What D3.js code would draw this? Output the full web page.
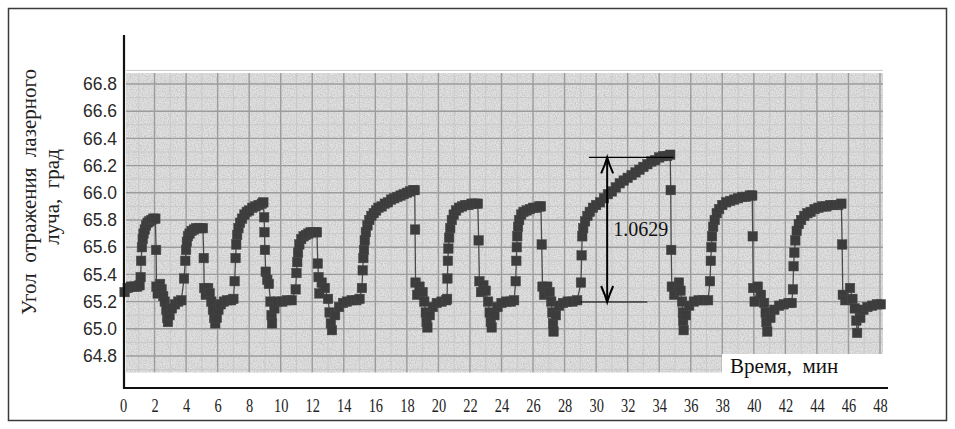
<!DOCTYPE html>
<html>
<head>
<meta charset="utf-8">
<script src="https://cdn.jsdelivr.net/npm/d3@7/dist/d3.min.js"></script>
<style>
  html, body { margin: 0; padding: 0; background: #fff; }
  svg { display: block; }
</style>
</head>
<body>
<div id="chart"></div>
<script>
// angle of the reflected laser beam vs time
const xTicks = d3.range(0, 49, 2);
const yTicks = [64.8, 65.0, 65.2, 65.4, 65.6, 65.8, 66.0, 66.2, 66.4, 66.6, 66.8];

const cycle1 = [[0.1,65.27],[0.3,65.30],[0.5,65.31],[0.7,65.31],[0.9,65.31],[1.05,65.32],
  [1.12,65.38],[1.15,65.50],[1.2,65.60],[1.25,65.66],[1.3,65.70],[1.38,65.73],[1.46,65.76],[1.56,65.78],
  [1.68,65.79],[1.8,65.80],[1.92,65.81],[2.05,65.81],
  [2.1,65.58],[2.12,65.31],[2.2,65.26],[2.35,65.33],[2.45,65.29],[2.55,65.24],[2.65,65.2],[2.75,65.14],
  [2.8,65.08],[2.85,65.05],[2.95,65.1],[3.1,65.15],[3.3,65.18],[3.5,65.2],[3.7,65.21]];
const cycle2 = [[3.87,65.37],[3.95,65.5],[4.0,65.58],[4.05,65.64],[4.12,65.68],[4.22,65.7],[4.35,65.72],
  [4.5,65.73],[4.65,65.74],[4.8,65.74],[4.95,65.74],[5.07,65.74],
  [5.12,65.52],[5.15,65.3],[5.25,65.25],[5.4,65.3],[5.5,65.26],[5.6,65.2],[5.7,65.14],[5.78,65.08],
  [5.85,65.04],[5.95,65.08],[6.05,65.14],[6.2,65.18],[6.4,65.2],[6.6,65.21],[6.85,65.21],[7.0,65.22]];
const cycle3 = [[7.08,65.35],[7.14,65.52],[7.18,65.62],[7.24,65.69],[7.32,65.74],[7.42,65.78],[7.55,65.81],
  [7.7,65.84],[7.85,65.86],[8.0,65.87],[8.2,65.89],[8.4,65.9],[8.6,65.91],[8.8,65.92],[8.9,65.93],
  [8.95,65.82],[8.97,65.71],[9.0,65.58],[9.05,65.42],[9.15,65.36],[9.25,65.33],[9.35,65.2],[9.42,65.1],
  [9.45,65.04],[9.6,65.15],[9.8,65.2],[10.1,65.2],[10.4,65.21],[10.7,65.21]];
const cycle4 = [[10.95,65.29],[11.0,65.41],[11.05,65.49],[11.1,65.56],[11.18,65.62],[11.3,65.66],[11.45,65.68],
  [11.6,65.69],[11.75,65.7],[11.9,65.71],[12.05,65.71],[12.2,65.71],[12.3,65.71],
  [12.35,65.48],[12.4,65.38],[12.45,65.26],[12.6,65.34],[12.8,65.3],[13.0,65.22],[13.1,65.12],[13.18,65.04],
  [13.25,64.99],[13.45,65.1],[13.7,65.16],[13.95,65.19],[14.2,65.2],[14.5,65.21],[14.8,65.21],[15.0,65.22]];
const cycle5 = [[15.15,65.30],[15.2,65.43],[15.24,65.52],[15.28,65.58],[15.33,65.65],[15.4,65.71],[15.5,65.76],
  [15.62,65.8],[15.75,65.83],[15.9,65.85],[16.05,65.87],[16.2,65.89],[16.4,65.9],[16.6,65.92],[16.8,65.93],
  [17.0,65.95],[17.2,65.96],[17.4,65.97],[17.6,65.98],[17.8,65.99],[18.0,66.0],[18.2,66.01],[18.4,66.02],[18.5,66.02],
  [18.52,65.73],[18.55,65.34],[18.65,65.25],[18.8,65.31],[19.0,65.27],[19.1,65.2],[19.2,65.12],[19.25,65.05],
  [19.3,65.01],[19.45,65.1],[19.65,65.16],[19.9,65.19],[20.2,65.2],[20.5,65.21]];
const cycle6 = [[20.55,65.22],[20.57,65.37],[20.6,65.5],[20.63,65.59],[20.68,65.67],[20.75,65.74],[20.85,65.8],
  [20.97,65.84],[21.12,65.87],[21.3,65.89],[21.5,65.9],[21.7,65.91],[21.9,65.91],[22.1,65.92],[22.3,65.92],[22.5,65.92],
  [22.55,65.65],[22.6,65.35],[22.7,65.27],[22.85,65.32],[23.0,65.28],[23.15,65.2],[23.25,65.12],[23.32,65.05],
  [23.38,65.01],[23.55,65.1],[23.75,65.16],[24.0,65.19],[24.3,65.2],[24.6,65.2],[24.8,65.21]];
const cycle7 = [[24.9,65.35],[24.94,65.5],[24.97,65.6],[25.0,65.68],[25.05,65.75],[25.12,65.8],[25.25,65.84],
  [25.4,65.86],[25.6,65.87],[25.8,65.88],[26.0,65.89],[26.2,65.89],[26.4,65.9],[26.5,65.9],
  [26.55,65.62],[26.6,65.31],[26.7,65.25],[26.9,65.31],[27.05,65.27],[27.15,65.2],[27.22,65.12],[27.27,65.04],
  [27.3,64.98],[27.45,65.1],[27.65,65.17],[27.9,65.19],[28.2,65.2],[28.5,65.2],[28.8,65.21]];
const cycle8 = [[29.04,65.34],[29.08,65.54],[29.12,65.68],[29.18,65.74],[29.3,65.79],[29.45,65.83],[29.6,65.86],
  [29.8,65.89],[30.0,65.91],[30.25,65.93],[30.5,65.96],[30.75,65.99],[31.0,66.01],[31.25,66.04],[31.5,66.07],
  [31.75,66.09],[32.0,66.11],[32.25,66.13],[32.5,66.15],[32.75,66.17],[33.0,66.19],[33.25,66.21],[33.5,66.23],
  [33.75,66.24],[34.0,66.26],[34.25,66.27],[34.5,66.27],[34.7,66.28],
  [34.73,66.02],[34.76,65.58],[34.8,65.31],[34.95,65.25],[35.25,65.34],[35.35,65.28],[35.45,65.2],[35.5,65.12],
  [35.52,65.06],[35.55,64.99],[35.7,65.1],[35.9,65.17],[36.2,65.2],[36.5,65.21],[36.8,65.21],[37.1,65.21]];
const cycle9 = [[37.22,65.35],[37.27,65.5],[37.31,65.6],[37.35,65.68],[37.42,65.75],[37.52,65.8],[37.65,65.85],
  [37.8,65.88],[38.0,65.91],[38.25,65.93],[38.5,65.94],[38.75,65.95],[39.0,65.96],[39.25,65.97],[39.5,65.97],
  [39.75,65.98],[39.9,65.98],
  [39.93,65.68],[39.96,65.3],[40.05,65.2],[40.25,65.31],[40.45,65.25],[40.65,65.19],[40.75,65.12],[40.8,65.05],
  [40.85,64.98],[41.05,65.08],[41.3,65.14],[41.6,65.17],[41.9,65.18],[42.2,65.19],[42.4,65.19]];
const cycle10 = [[42.48,65.29],[42.52,65.46],[42.57,65.56],[42.63,65.65],[42.72,65.72],[42.85,65.77],[43.0,65.8],
  [43.2,65.83],[43.4,65.85],[43.6,65.86],[43.85,65.88],[44.1,65.89],[44.35,65.9],[44.6,65.9],[44.85,65.91],
  [45.1,65.91],[45.35,65.91],[45.55,65.92],
  [45.6,65.62],[45.64,65.25],[45.8,65.21],[46.1,65.3],[46.25,65.22],[46.4,65.15],[46.5,65.06],[46.55,64.97],
  [46.75,65.08],[46.95,65.14],[47.2,65.16],[47.5,65.17],[47.8,65.18],[48.05,65.18]];

// the 1.0629 swing marked on the 8th cycle
const swingTop = 66.26, swingSize = 1.0629;
const swingAt = 30.7;
const swingTopSpan = [29.55, 34.9], swingBottomSpan = [29.0, 33.25];

const series = [].concat(cycle1, cycle2, cycle3, cycle4, cycle5, cycle6, cycle7, cycle8, cycle9, cycle10);

const width = 955, height = 429;
const x = d3.scaleLinear().domain([0, 48]).range([123, 880]);
const y = d3.scaleLinear().domain([64.8, 66.8]).range([356, 84]);
const axisY = 388, axisX = 124;

const svg = d3.select('#chart').append('svg')
  .attr('width', width).attr('height', height);

// speckle for the scanned graph paper
const defs = svg.append('defs');
const noise = defs.append('filter').attr('id', 'speckle')
  .attr('x', 0).attr('y', 0).attr('width', 1).attr('height', 1);
noise.append('feTurbulence').attr('type', 'fractalNoise')
  .attr('baseFrequency', 0.85).attr('numOctaves', 2).attr('seed', 4);
noise.append('feColorMatrix').attr('type', 'matrix')
  .attr('values', '0 0 0 0 0.35  0 0 0 0 0.35  0 0 0 0 0.35  0.9 0 0 0 -0.3');

// outer frame
svg.append('rect')
  .attr('x', 8.5).attr('y', 8.5).attr('width', 938).attr('height', 412)
  .attr('fill', 'none').attr('stroke', '#3a3a3a').attr('stroke-width', 1.5);

// grey graph-paper background
const gx0 = x(0) + 3, gx1 = x(48) + 3, gy0 = y(66.88), gy1 = y(64.68);
svg.append('rect')
  .attr('x', gx0).attr('y', gy0).attr('width', gx1 - gx0).attr('height', gy1 - gy0)
  .attr('fill', '#e2e2e2');
svg.append('rect')
  .attr('x', gx0).attr('y', gy0).attr('width', gx1 - gx0).attr('height', gy1 - gy0)
  .attr('fill', '#fff').attr('filter', 'url(#speckle)');

const grid = svg.append('g');
// minor lines halfway between majors
grid.selectAll('.vminor').data(d3.range(1, 48, 2)).join('line')
  .attr('x1', d => x(d)).attr('x2', d => x(d)).attr('y1', gy0).attr('y2', gy1)
  .attr('stroke', '#c9c9c9').attr('stroke-width', 1);
grid.selectAll('.hminor').data(d3.range(64.7, 66.9, 0.2)).join('line')
  .attr('x1', gx0).attr('x2', gx1).attr('y1', d => y(d)).attr('y2', d => y(d))
  .attr('stroke', '#c9c9c9').attr('stroke-width', 1);
grid.selectAll('.vmajor').data(xTicks.filter(d => d > 0)).join('line')
  .attr('x1', d => x(d)).attr('x2', d => x(d)).attr('y1', gy0).attr('y2', gy1)
  .attr('stroke', '#9c9c9c').attr('stroke-width', 1.4);
grid.selectAll('.hmajor').data(yTicks).join('line')
  .attr('x1', gx0).attr('x2', gx1).attr('y1', d => y(d)).attr('y2', d => y(d))
  .attr('stroke', '#9c9c9c').attr('stroke-width', 1.4);

// white box behind the x title
svg.append('rect')
  .attr('x', 722).attr('y', 354).attr('width', gx1 - 722 + 1).attr('height', gy1 - 354 + 1)
  .attr('fill', '#fff');

// data
const line = d3.line().x(d => x(d[0])).y(d => y(d[1]));
svg.append('path').datum(series)
  .attr('d', line).attr('fill', 'none')
  .attr('stroke', '#4a4a4a').attr('stroke-width', 1.3);

const ms = 9.5;
svg.append('g').selectAll('rect').data(series).join('rect')
  .attr('x', d => x(d[0]) - ms / 2).attr('y', d => y(d[1]) - ms / 2)
  .attr('width', ms).attr('height', ms)
  .attr('fill', '#3c3c3c').attr('stroke', '#474747').attr('stroke-width', 0.5);

// axes
const yAxis = svg.append('g').attr('transform', `translate(${axisX},0)`)
  .call(d3.axisLeft(y).tickValues(yTicks).tickSize(0).tickPadding(7).tickFormat(d3.format('.1f')));
yAxis.select('.domain').remove();
yAxis.selectAll('text').attr('font-family', '"Liberation Sans", Arial, sans-serif')
  .attr('font-size', 17.5).attr('fill', '#2a2a2a');

const xAxis = svg.append('g').attr('transform', `translate(0,${axisY})`)
  .call(d3.axisBottom(x).tickValues(xTicks).tickSize(0).tickPadding(11));
xAxis.select('.domain').remove();
xAxis.selectAll('text').attr('font-family', '"Liberation Serif", "Times New Roman", serif')
  .attr('font-size', 18).attr('fill', '#222').attr('transform', 'scale(0.8,1)');

svg.append('line').attr('x1', axisX).attr('x2', axisX).attr('y1', 35).attr('y2', axisY + 1)
  .attr('stroke', '#111').attr('stroke-width', 2.2);
svg.append('line').attr('x1', axisX - 1).attr('x2', 888).attr('y1', axisY).attr('y2', axisY)
  .attr('stroke', '#111').attr('stroke-width', 2.2);

// titles
const serif = '"Liberation Serif", "Times New Roman", serif';
svg.append('text')
  .attr('transform', 'translate(36,192) rotate(-90)')
  .attr('text-anchor', 'middle').attr('font-family', serif).attr('font-size', 21)
  .attr('fill', '#222').style('white-space', 'pre')
  .text('Угол  отражения  лазерного');
svg.append('text')
  .attr('transform', 'translate(59,197) rotate(-90)')
  .attr('text-anchor', 'middle').attr('font-family', serif).attr('font-size', 21)
  .attr('fill', '#222').style('white-space', 'pre')
  .text('луча,  град');
svg.append('text')
  .attr('x', 730).attr('y', 373)
  .attr('font-family', serif).attr('font-size', 21).attr('fill', '#111')
  .style('white-space', 'pre')
  .text('Время,  мин');

// swing annotation
const swingBottom = swingTop - swingSize;
const ann = svg.append('g').attr('stroke', '#000').attr('fill', 'none');
ann.append('line')
  .attr('x1', x(swingTopSpan[0])).attr('x2', x(swingTopSpan[1]))
  .attr('y1', y(swingTop)).attr('y2', y(swingTop)).attr('stroke-width', 1.2);
ann.append('line')
  .attr('x1', x(swingBottomSpan[0])).attr('x2', x(swingBottomSpan[1]))
  .attr('y1', y(swingBottom)).attr('y2', y(swingBottom)).attr('stroke-width', 1.2);
const ax = x(swingAt), ayT = y(swingTop), ayB = y(swingBottom);
ann.append('line').attr('x1', ax).attr('x2', ax).attr('y1', ayT + 1).attr('y2', ayB - 1)
  .attr('stroke-width', 2);
ann.append('path').attr('stroke-width', 2)
  .attr('d', `M${ax - 6},${ayT + 16} Q${ax - 2},${ayT + 7} ${ax},${ayT} Q${ax + 2},${ayT + 7} ${ax + 6},${ayT + 16}`);
ann.append('path').attr('stroke-width', 2)
  .attr('d', `M${ax - 6},${ayB - 16} Q${ax - 2},${ayB - 7} ${ax},${ayB} Q${ax + 2},${ayB - 7} ${ax + 6},${ayB - 16}`);

svg.append('text')
  .attr('x', x(swingAt) + 6).attr('y', y((swingTop + swingBottom) / 2) + 6)
  .attr('font-family', serif).attr('font-size', 20).attr('fill', '#111')
  .text(swingSize.toFixed(4));
</script>
</body>
</html>
